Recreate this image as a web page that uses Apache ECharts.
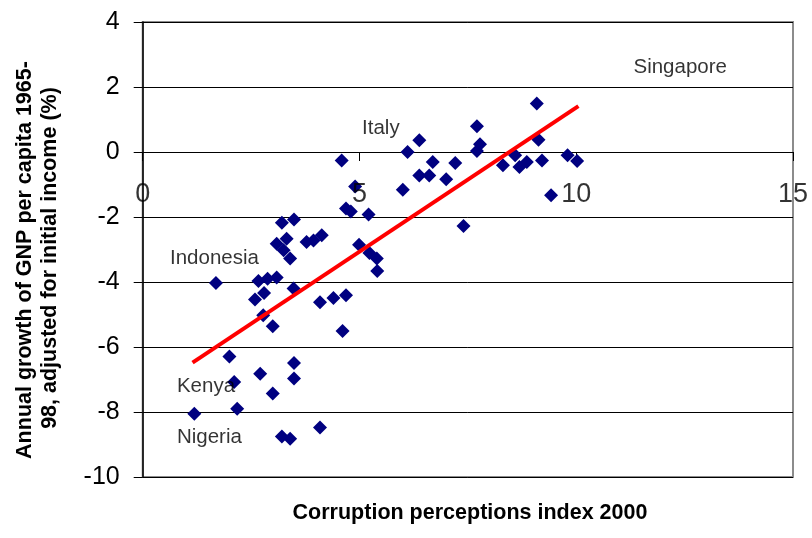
<!DOCTYPE html>
<html>
<head>
<meta charset="utf-8">
<script src="https://cdn.jsdelivr.net/npm/echarts@6/dist/echarts.min.js"></script>
<style>
html,body{margin:0;padding:0;background:#fff;}
#chart{width:812px;height:538px;}
</style>
</head>
<body>
<div id="chart"></div>
<script>
// Corruption perceptions index 2000 (x) vs annual GNP growth adjusted (y)
const cpi = [4.59,4.90,4.69,4.80,5.21,3.21,3.49,3.09,3.32,3.25,3.40,3.78,3.94,4.13,4.99,5.23,5.40,5.41,
  9.09,7.71,6.38,6.11,7.78,7.71,9.13,8.59,6.69,7.21,6.38,6.61,7.00,6.00,8.31,8.69,8.86,9.21,9.80,10.02,9.42,7.40,
  1.69,2.67,2.88,3.09,3.48,2.59,2.80,4.09,4.40,4.69,2.78,3.00,4.61,2.00,3.49,2.71,2.11,3.49,3.00,2.18,1.19,3.21,3.40,4.09];
const growth = [-0.26,-1.06,-1.74,-1.83,-1.92,-2.18,-2.08,-2.82,-2.67,-3.02,-3.28,-2.77,-2.72,-2.56,-2.85,-3.11,-3.28,-3.66,
  1.49,0.79,0.36,0.00,0.24,0.03,0.38,-0.10,-0.31,-0.34,-0.72,-0.72,-0.84,-1.16,-0.41,-0.46,-0.31,-0.26,-0.10,-0.28,-1.33,-2.28,
  -4.03,-3.97,-3.90,-3.86,-4.20,-4.54,-4.34,-4.62,-4.49,-4.41,-5.02,-5.36,-5.51,-6.29,-6.49,-6.82,-7.08,-6.97,-7.43,-7.90,-8.05,-8.75,-8.82,-8.48];
const trendX = [1.15, 10.05];
const trendY = [-6.48, 1.41];
const countryNames = ["Singapore","Italy","Indonesia","Kenya","Nigeria"];
const countryX = [11.32, 5.06, 0.63, 0.79, 0.79];
const countryY = [2.6, 0.73, -3.27, -7.21, -8.78];
const xTicks = [0, 5, 10, 15];
const yTicks = [-10, -8, -6, -4, -2, 0, 2, 4];
const xTitle = 'Corruption perceptions index 2000';
const yTitle1 = 'Annual growth of GNP per capita 1965-';
const yTitle2 = '98, adjusted for initial income (%)';

const font = '"Liberation Sans", Arial, sans-serif';
const chart = echarts.init(document.getElementById('chart'), null, {renderer:'canvas'});
chart.setOption({
  animation:false,
  backgroundColor:'#fff',
  grid:{left:142.7, right:19, top:22, bottom:61, show:true, borderColor:'#8c8c8c', borderWidth:2, backgroundColor:'transparent'},
  xAxis:{type:'value', min:xTicks[0], max:xTicks[xTicks.length-1], interval:5,
    axisLine:{onZero:true, lineStyle:{color:'#000', width:1}},
    axisTick:{show:true, inside:false, length:9, lineStyle:{color:'#000'}},
    axisLabel:{show:false},
    splitLine:{show:false}},
  yAxis:{type:'value', min:yTicks[0], max:yTicks[yTicks.length-1], interval:2,
    axisLine:{show:true, onZero:false, lineStyle:{color:'#000', width:1.5}},
    axisTick:{show:true, inside:false, length:9, lineStyle:{color:'#000'}},
    axisLabel:{fontFamily:font, fontSize:25, color:'#000', margin:23},
    splitLine:{show:true, lineStyle:{color:'#000', width:1}}},
  graphic:[
    {type:'text', x:470, y:513, style:{text:xTitle, font:'bold 21.5px '+font, fill:'#000', textAlign:'center', textVerticalAlign:'middle'}},
    {type:'text', x:25, y:260, rotation:Math.PI/2, style:{text:yTitle1, font:'bold 21.5px '+font, fill:'#000', textAlign:'center', textVerticalAlign:'middle'}},
    {type:'text', x:50, y:258, rotation:Math.PI/2, style:{text:yTitle2, font:'bold 21.5px '+font, fill:'#000', textAlign:'center', textVerticalAlign:'middle'}}
  ],
  series:[
    {type:'scatter', data:cpi.map((v,i)=>[v,growth[i]]), symbol:'diamond', symbolSize:14,
      itemStyle:{color:'#000080', opacity:1}, z:3},
    {type:'line', data:trendX.map((v,i)=>[v,trendY[i]]), symbol:'none',
      lineStyle:{color:'#ff0000', width:4}, z:4},
    {type:'scatter', data:countryX.map((v,i)=>[v,countryY[i],countryNames[i]]), symbolSize:0, silent:true,
      label:{show:true, position:'right', distance:0, formatter:p=>p.data[2], fontFamily:font, fontSize:20.5, color:'#000'}, z:5},
    {type:'scatter', data:xTicks.map(t=>[t,0,String(t)]), symbolSize:0, silent:true, clip:false,
      label:{show:true, position:'inside', offset:[0,43], formatter:p=>p.data[2], fontFamily:font, fontSize:27, color:'#000'}, z:6}
  ]
});
</script>
</body>
</html>
